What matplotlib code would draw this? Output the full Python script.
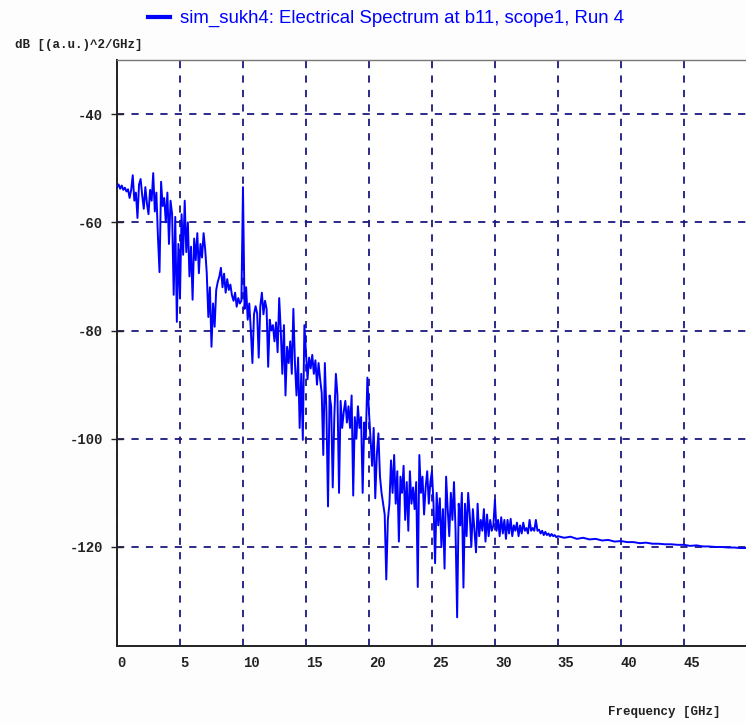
import numpy as np
import matplotlib
matplotlib.use("Agg")
import matplotlib.pyplot as plt
from matplotlib.lines import Line2D

# noisy part of the spectrum, 0 .. 34.875 GHz, 8 samples per GHz
fine_step = 0.125
fine_db = [
    -53.5, -53.0, -53.8, -53.2, -54.0, -53.6, -54.3, -53.9,
    -55.5, -54.0, -51.3, -56.0, -54.5, -59.2, -53.0, -52.0,
    -55.0, -57.5, -53.5, -56.5, -58.5, -54.0, -56.0, -50.9,
    -58.0, -54.5, -62.7, -69.2, -52.5, -57.0, -55.5, -60.0,
    -54.5, -64.0, -56.0, -58.5, -73.4, -59.0, -78.4, -64.0,
    -74.0, -58.5, -66.0, -56.0, -65.5, -60.0, -70.0, -64.5,
    -74.3, -63.0, -67.0, -62.0, -69.4, -64.0, -66.5, -62.0,
    -65.0, -69.4, -77.5, -72.0, -83.0, -75.0, -79.3, -72.5,
    -71.0, -70.0, -68.4, -72.0, -69.5, -73.0, -70.5, -72.5,
    -71.5, -73.5, -74.5, -73.0, -75.6, -74.0, -75.0, -74.5,
    -53.5, -76.0, -72.0, -78.0, -75.0, -80.0, -86.0, -77.0,
    -75.5, -76.8, -85.0, -75.5, -73.0, -77.0, -74.5, -76.0,
    -86.7, -78.0, -80.0, -79.0, -82.0, -78.5, -84.0, -74.0,
    -80.0, -88.0, -79.0, -92.0, -83.0, -86.0, -82.0, -88.0,
    -76.0, -86.0, -92.0, -85.0, -98.0, -88.0, -100.2, -79.0,
    -84.0, -89.0, -85.0, -87.0, -84.5, -88.0, -85.5, -90.0,
    -86.0, -89.0, -91.5, -103.0, -86.0, -95.0, -112.5, -92.0,
    -94.0, -109.0, -96.0, -88.0, -92.0, -110.0, -93.0, -98.0,
    -95.0, -93.0, -97.0, -94.0, -98.0, -92.0, -110.5, -96.0,
    -100.0, -94.0, -98.0, -96.0, -110.0, -97.0, -100.0, -88.7,
    -95.0, -100.0, -105.0, -98.0, -111.0, -103.0, -99.0, -107.0,
    -110.0, -112.0, -114.0, -126.0, -115.0, -112.0, -104.0, -110.0,
    -103.0, -112.0, -106.0, -119.0, -107.0, -110.0, -105.0, -115.0,
    -108.0, -117.0, -106.0, -112.0, -109.0, -113.0, -108.0, -127.4,
    -103.0, -110.0, -107.0, -114.0, -109.0, -106.0, -112.0, -108.0,
    -106.0, -112.0, -123.0, -110.0, -116.0, -111.0, -120.0, -113.0,
    -124.0, -107.0, -113.0, -118.0, -110.0, -115.0, -108.0, -117.0,
    -133.0, -112.0, -116.0, -110.0, -127.5, -112.0, -118.0, -110.0,
    -114.0, -120.0, -113.0, -117.0, -121.0, -112.0, -118.0, -115.0,
    -117.0, -113.0, -119.0, -114.0, -118.0, -115.0, -117.0, -116.0,
    -111.3, -117.0, -115.0, -118.0, -114.5, -117.5, -115.0, -118.5,
    -115.0, -117.5, -114.8, -118.0, -116.0, -117.0, -115.5, -118.0,
    -116.0, -117.5, -115.5, -117.0, -116.5, -117.5, -115.0, -117.0,
    -116.5, -117.0, -115.0, -117.0, -116.8, -117.5, -117.0, -117.8,
    -117.2, -117.8, -117.5, -118.0, -117.6, -118.0, -117.8, -118.2,
]

# smooth tail, 35 .. 50 GHz, 2 samples per GHz
tail_start = 35.0
tail_step = 0.5
tail_db = [
    -118.0, -118.3, -118.1, -118.5, -118.3, -118.6, -118.5, -118.8,
    -118.7, -119.0, -118.9, -119.1, -119.1, -119.3, -119.2, -119.4,
    -119.4, -119.5, -119.5, -119.6, -119.6, -119.8, -119.7, -119.9,
    -119.9, -120.0, -120.0, -120.1, -120.1, -120.2, -120.2,
]

x_ticks = [0, 5, 10, 15, 20, 25, 30, 35, 40, 45]
y_ticks = [-40, -60, -80, -100, -120]
title = "sim_sukh4: Electrical Spectrum at b11, scope1, Run 4"

freq = np.concatenate([np.arange(len(fine_db)) * fine_step,
                       tail_start + np.arange(len(tail_db)) * tail_step])
power = np.array(fine_db + tail_db)

W, H = 746, 723
fig = plt.figure(figsize=(W / 100, H / 100), dpi=100)
fig.patch.set_facecolor("#fdfdfd")

left, right, top, bottom = 117, 746, 60, 646
ax = fig.add_axes([left / W, 1 - bottom / H, (right - left) / W, (bottom - top) / H])
ax.set_facecolor("white")

ax.plot(freq, power, color="#0000ff", lw=1.4, zorder=3)

ax.set_xlim(0, 49.93)
ax.set_ylim(-138.3, -30.0)

grid_col = "#1a1a80"
ax.set_xticks(x_ticks)
ax.set_yticks(y_ticks)
ax.grid(True, color=grid_col, ls=(0, (4, 4)), lw=1.3, zorder=1)

mono = dict(family="Liberation Mono", size=10, weight="bold")
ax.set_xticklabels([str(v) for v in x_ticks], ha="left", **mono)
ax.set_yticklabels([str(v) for v in y_ticks], **mono)
ax.tick_params(axis="x", direction="out", length=0, pad=7, colors="#222222")
ax.tick_params(axis="y", direction="inout", length=8, width=1, pad=6, colors="#222222")

for s in ["left", "bottom"]:
    ax.spines[s].set_color("#222222")
    ax.spines[s].set_linewidth(1.4)
ax.spines["right"].set_visible(False)
ax.spines["top"].set_color("#777777")
ax.spines["top"].set_linewidth(1.0)

# legend-style title
fig.add_artist(Line2D([148 / W, 170 / W], [1 - 17 / H, 1 - 17 / H], color="#0000ff", lw=3))
fig.text(180 / W, 1 - 18 / H, title, color="#0000ff", fontsize=13.4,
         family="Liberation Sans", va="center", ha="left")

fig.text(15 / W, 1 - 45 / H, "dB [(a.u.)^2/GHz]", fontsize=9, va="center", ha="left",
         family="Liberation Mono", weight="bold", color="#222222")
fig.text(720 / W, 1 - 712 / H, "Frequency [GHz]", fontsize=9, va="center", ha="right",
         family="Liberation Mono", weight="bold", color="#222222")

fig.savefig("out.png", dpi=100, facecolor=fig.get_facecolor())
